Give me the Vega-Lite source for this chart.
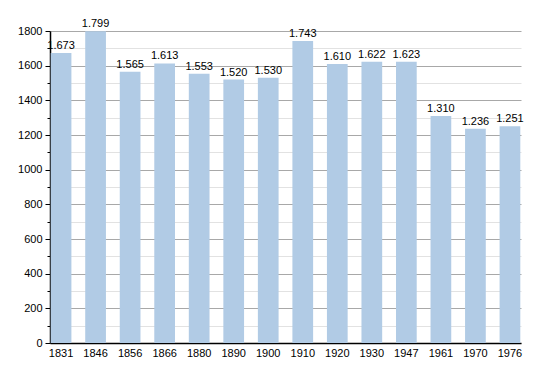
{
  "$schema": "https://vega.github.io/schema/vega-lite/v6.json",
  "width": 471,
  "height": 312,
  "autosize": {"type": "none"},
  "padding": {"left": 50, "top": 31, "right": 29, "bottom": 30},
  "background": "white",
  "config": {
    "view": {"stroke": null},
    "font": "Liberation Sans",
    "locale": {"number": {"decimal": ",", "thousands": ".", "grouping": [3], "currency": ["", ""]}}
  },
  "data": {
    "values": [
      {"year": "1831", "pop": 1673},
      {"year": "1846", "pop": 1799},
      {"year": "1856", "pop": 1565},
      {"year": "1866", "pop": 1613},
      {"year": "1880", "pop": 1553},
      {"year": "1890", "pop": 1520},
      {"year": "1900", "pop": 1530},
      {"year": "1910", "pop": 1743},
      {"year": "1920", "pop": 1610},
      {"year": "1930", "pop": 1622},
      {"year": "1947", "pop": 1623},
      {"year": "1961", "pop": 1310},
      {"year": "1970", "pop": 1236},
      {"year": "1976", "pop": 1251}
    ]
  },
  "encoding": {
    "x": {
      "field": "year", "type": "ordinal", "sort": null,
      "scale": {"paddingInner": 0.4, "paddingOuter": 0.02},
      "axis": {
        "title": null, "labelAngle": 0, "ticks": false, "labelPadding": 4,
        "labelFontSize": 11, "labelColor": "#000", "domainColor": "#000", "domainWidth": 1.5,
        "grid": false
      }
    },
    "y": {
      "field": "pop", "type": "quantitative",
      "scale": {"domain": [0, 1800], "nice": false},
      "axis": {
        "title": null,
        "values": [0, 100, 200, 300, 400, 500, 600, 700, 800, 900, 1000, 1100, 1200, 1300, 1400, 1500, 1600, 1700, 1800],
        "format": "d",
        "labelExpr": "datum.value % 200 === 0 ? datum.label : ''",
        "labelFontSize": 11, "labelColor": "#000", "labelPadding": 3,
        "domainColor": "#000", "domainWidth": 1.5,
        "tickColor": "#000",
        "tickSize": {"condition": {"test": "datum.value % 200 === 0", "value": 5}, "value": 3},
        "grid": true,
        "gridColor": {"condition": {"test": "datum.value % 200 === 0", "value": "#a8a8a8"}, "value": "#e2e2e2"},
        "gridWidth": 1
      }
    }
  },
  "layer": [
    {"mark": {"type": "bar", "color": "#b1cbe5"}},
    {
      "mark": {"type": "text", "baseline": "bottom", "dy": -2, "fontSize": 11, "color": "#000"},
      "encoding": {"text": {"field": "pop", "type": "quantitative", "format": ",d"}}
    }
  ]
}
